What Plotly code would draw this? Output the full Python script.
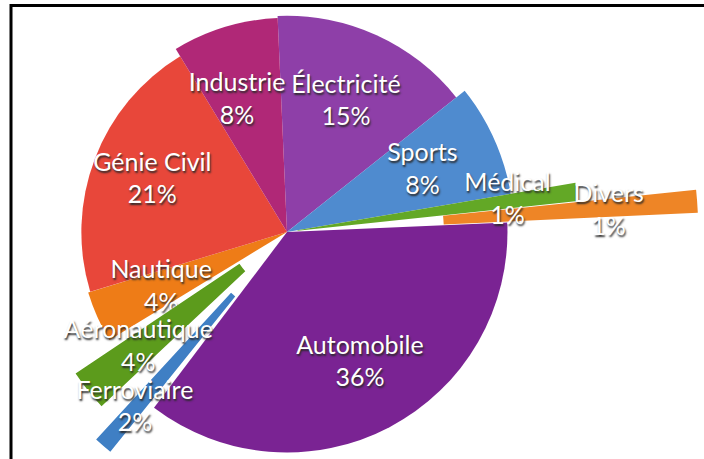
import math
import numpy as np
import plotly.graph_objects as go

# ---- data ----
labels = ["Électricité", "Sports", "Médical", "Divers", "Automobile",
          "Ferroviaire", "Aéronautique", "Nautique", "Génie Civil", "Industrie"]
values = [15, 8, 1, 1, 36, 2, 4, 4, 21, 8]

# ---- style (per slice) ----
colors = ["#8e3fa8", "#4f8bcf", "#63a826", "#ee8526", "#7a2393",
          "#3f7fc4", "#5c9b1c", "#ee7c17", "#e8473a", "#b02877"]
outer = [1.02, 1.09, 1.38, 1.94, 1.04, 1.33, 1.20, 0.98, 0.97, 1.01]
base = [0, 0, 0.05, 0.74, 0, 0.39, 0.27, 0, 0, 0]
trim = [0, 0, 0, 0.4, 0, 3.4, 5.0, 0, 0, 0]
label_r = [0.67, 0.70, 1.05, 1.52, 0.71, 1.10, 0.89, 0.65, 0.68, 0.66]
label_dtheta = [0, 0, 0, 0.8, -1.3, 0, 0.5, 0, 0, -4.0]
group = ["polar", "polar", "polar2", "polar2", "polar",
         "polar3", "polar3", "polar", "polar", "polar"]

W, H = 704, 459
UNIT = 212.0           # px per radial unit
CX, CY = 287.0, 232.0  # pie centre in px
ROT = 92.5             # angular axis rotation

vals = np.array(values, dtype=float)
deg = vals / vals.sum() * 360.0
ends = np.cumsum(deg)
mids = ends - deg / 2
widths = deg - np.array(trim)
rlen = np.array(outer) - np.array(base)


def sector_bbox(s0, s1):
    a0 = s0 % 360
    a1 = a0 + (s1 - s0)
    ax0, ay0 = math.cos(math.radians(a0)), math.sin(math.radians(a0))
    ax1, ay1 = math.cos(math.radians(a1)), math.sin(math.radians(a1))
    if (a0 <= 90 <= a1) or (a0 > 90 and a1 >= 450):
        y1 = 1
    elif ay0 <= 0 and ay1 <= 0:
        y1 = 0
    else:
        y1 = max(ay0, ay1)
    if (a0 <= 180 <= a1) or (a0 > 180 and a1 >= 540):
        x0 = -1
    elif ax0 >= 0 and ax1 >= 0:
        x0 = 0
    else:
        x0 = min(ax0, ax1)
    if (a0 <= 270 <= a1) or (a0 > 270 and a1 >= 630):
        y0 = -1
    elif ay0 >= 0 and ay1 >= 0:
        y0 = 0
    else:
        y0 = min(ay0, ay1)
    if a1 >= 360:
        x1 = 1
    elif ax0 <= 0 and ax1 <= 0:
        x1 = 0
    else:
        x1 = max(ax0, ax1)
    return x0, y0, x1, y1


def polar_cfg(rmax, sector):
    rpx = rmax * UNIT
    x0, y0, x1, y1 = sector_bbox(*sector)
    left, right = CX + x0 * rpx, CX + x1 * rpx
    top, bottom = CY - y1 * rpx, CY - y0 * rpx
    clamp = lambda v: min(1.0, max(0.0, v))
    return dict(
        domain=dict(x=[clamp(left / W), clamp(right / W)],
                    y=[clamp(1 - bottom / H), clamp(1 - top / H)]),
        sector=list(sector),
        bgcolor="rgba(0,0,0,0)",
        bargap=0,
        radialaxis=dict(range=[0, rmax], visible=False, showgrid=False),
        angularaxis=dict(direction="clockwise", rotation=ROT, visible=False,
                         showgrid=False, thetaunit="degrees"),
    )


fig = go.Figure()
for sp in ["polar", "polar2", "polar3"]:
    idx = [i for i, g in enumerate(group) if g == sp]
    fig.add_trace(go.Barpolar(
        subplot=sp,
        r=[rlen[i] for i in idx], base=[base[i] for i in idx],
        theta=[mids[i] for i in idx], width=[widths[i] for i in idx],
        marker=dict(color=[colors[i] for i in idx], line=dict(width=0)),
        hoverinfo="skip", showlegend=False,
    ))
    fig.add_trace(go.Scatterpolar(
        subplot=sp,
        r=[label_r[i] for i in idx],
        theta=[mids[i] + label_dtheta[i] for i in idx],
        mode="text",
        text=[f"{labels[i]}<br>{values[i]}%" for i in idx],
        textfont=dict(family="Lato, sans-serif", size=25, color="white",
                      shadow="1px 2px 2px #2a2a2a"),
        cliponaxis=False, hoverinfo="skip", showlegend=False,
    ))

fig.update_layout(
    width=W, height=H,
    margin=dict(l=0, r=0, t=0, b=0),
    paper_bgcolor="white",
    polar=polar_cfg((H - CY) / UNIT, (0, 360)),
    polar2=polar_cfg(1.96, (0, 12)),
    polar3=polar_cfg(1.35, (212, 232)),
    shapes=[
        dict(type="line", xref="paper", yref="paper", x0=11 / W, x1=1.02,
             y0=1 - 5.5 / H, y1=1 - 5.5 / H, line=dict(color="black", width=3)),
        dict(type="line", xref="paper", yref="paper", x0=11 / W, x1=11 / W,
             y0=1 - 4 / H, y1=-0.02, line=dict(color="black", width=3)),
    ],
)
fig.write_html("out.html", config={"displayModeBar": False},
               post_script="document.body.style.margin='0';")
